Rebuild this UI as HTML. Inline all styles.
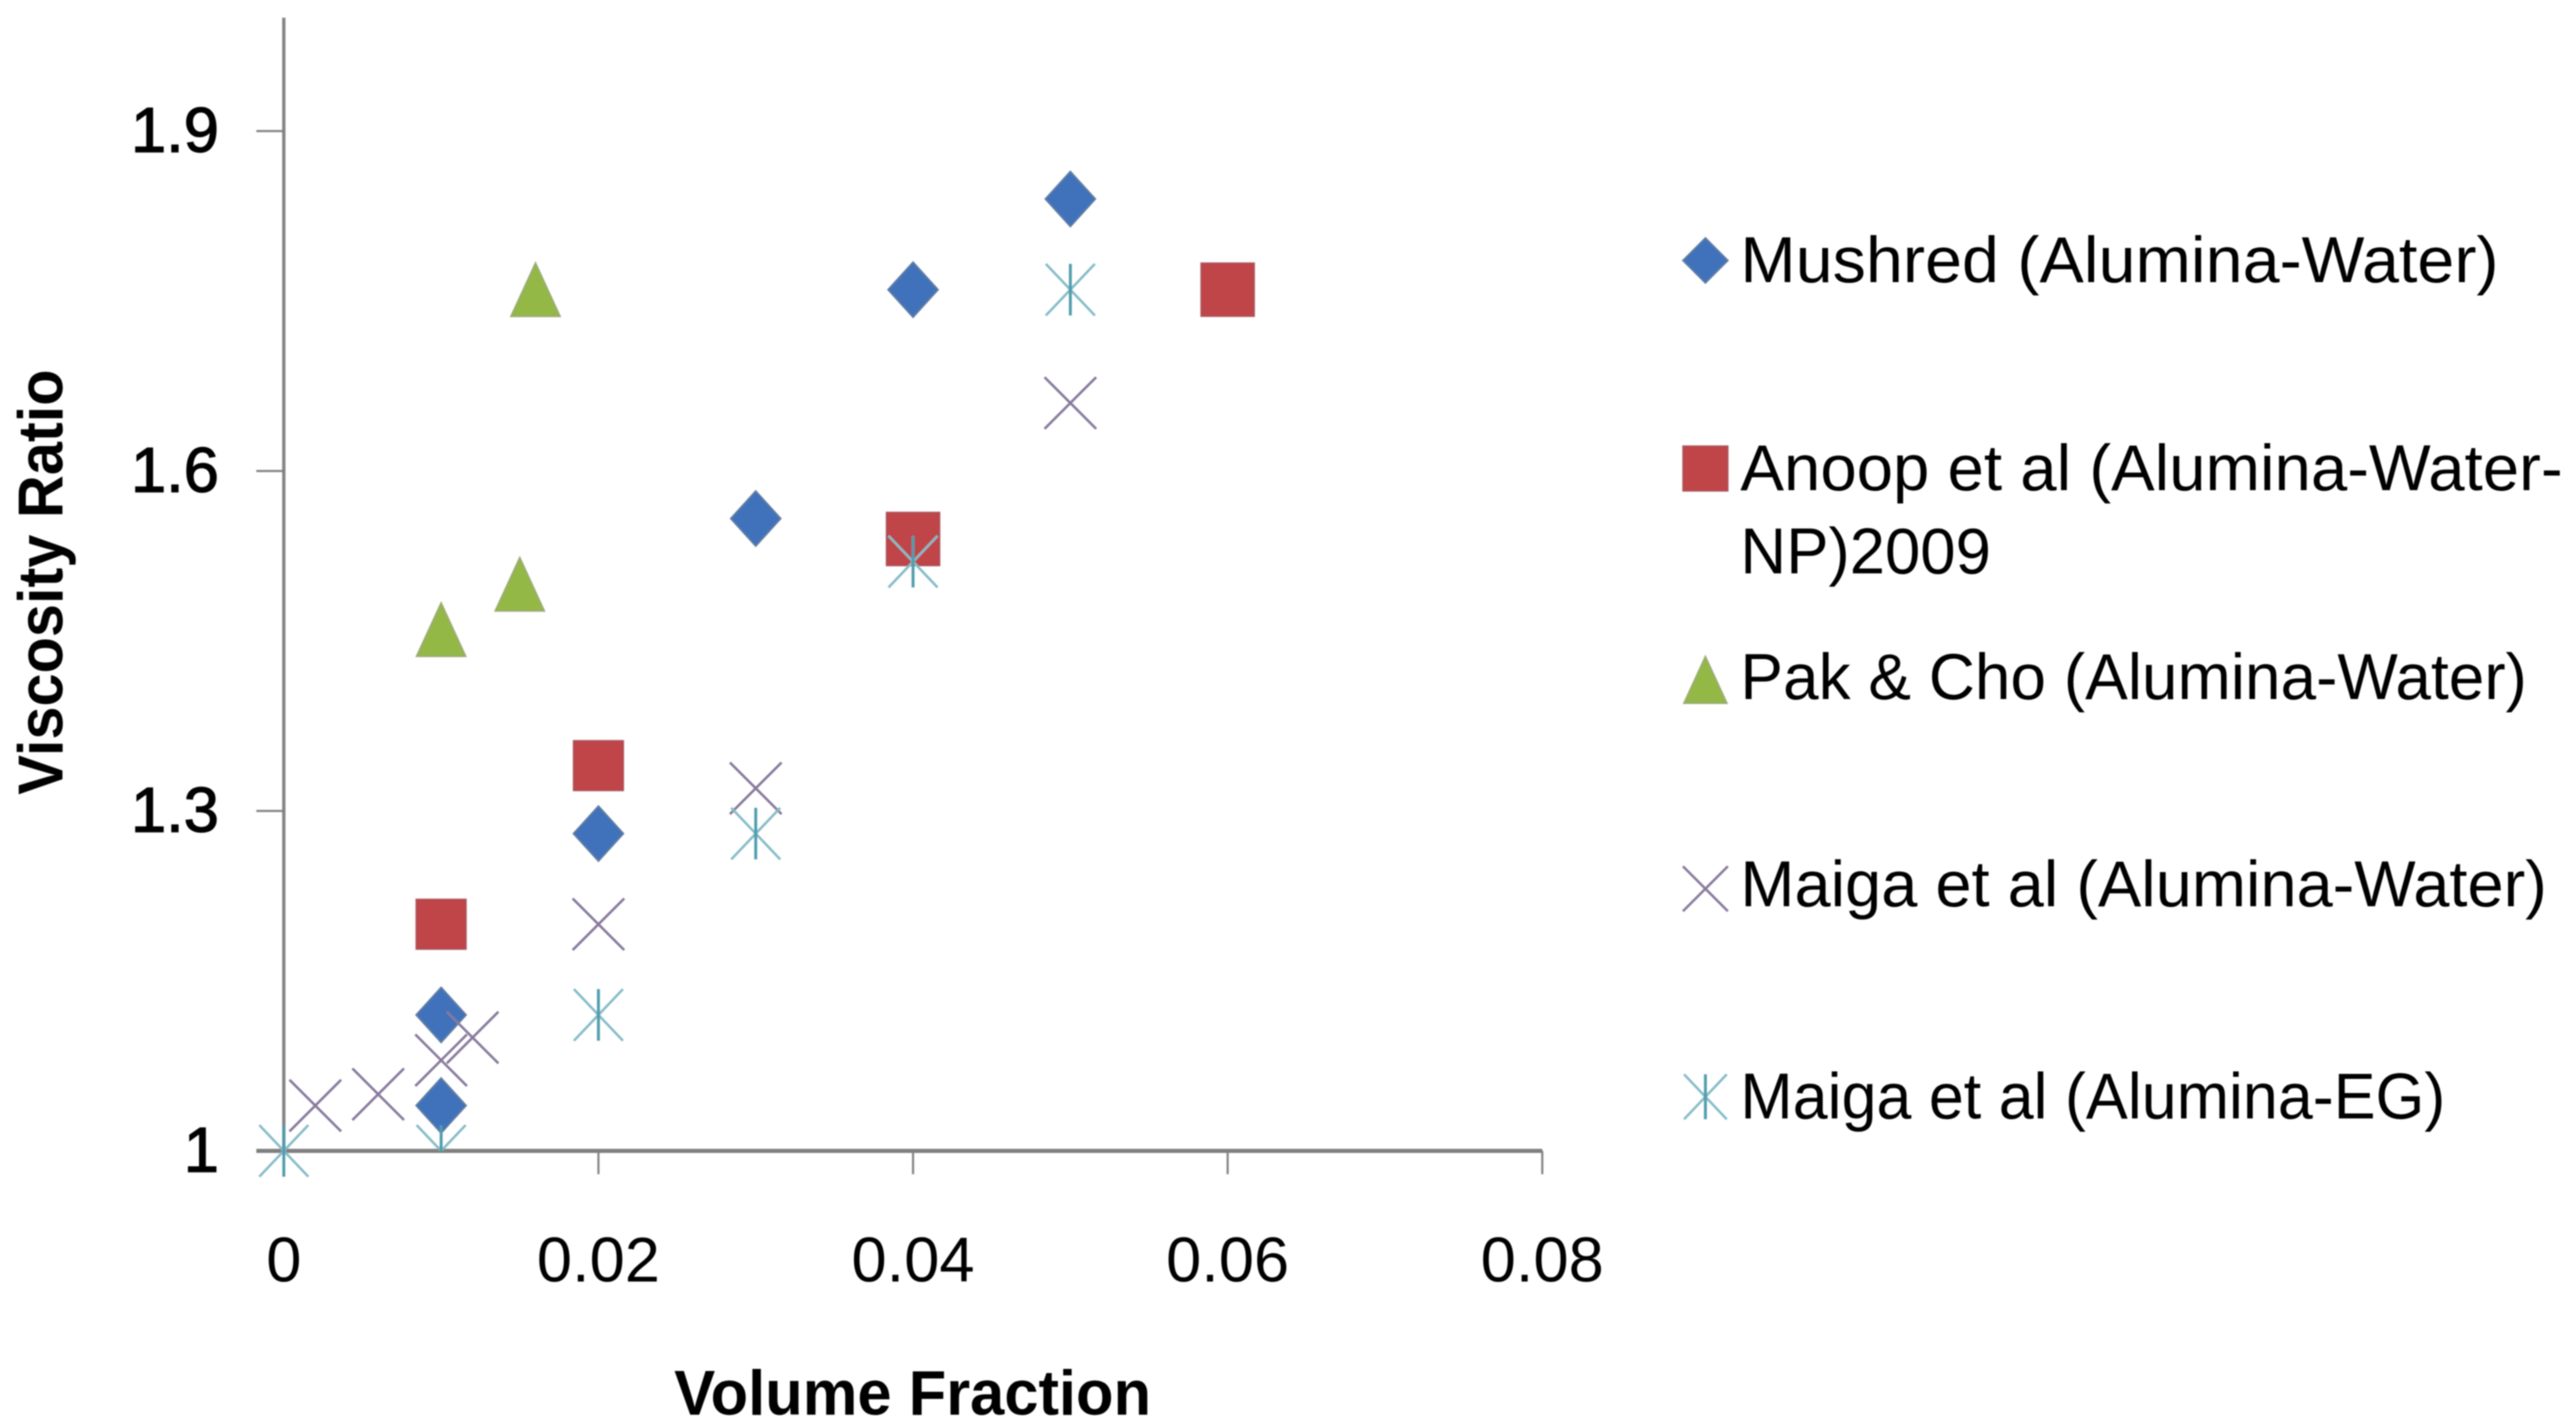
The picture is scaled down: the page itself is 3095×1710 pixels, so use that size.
<!DOCTYPE html>
<html lang="en">
<head>
<meta charset="utf-8">
<title>Viscosity Ratio vs Volume Fraction</title>
<style>
  html, body { margin: 0; padding: 0; background: #fff; }
  svg { display: block; }
  text { font-family: "Liberation Sans", sans-serif; fill: #000; }
</style>
</head>
<body>
<svg id="chart" xmlns="http://www.w3.org/2000/svg" width="3095" height="1710" viewBox="0 0 3095 1710">
  <defs>
    <clipPath id="plot-clip"><rect x="300" y="0" width="1600" height="1383"></rect></clipPath>
    <filter id="soft" x="-5%" y="-5%" width="110%" height="110%"><feGaussianBlur stdDeviation="0.9"></feGaussianBlur></filter>
  </defs>
  <rect x="0" y="0" width="3095" height="1710" fill="#ffffff"></rect>
  <g id="root" filter="url(#soft)">
    <g id="axes"></g>
    <g id="marks"></g>
    <text transform="translate(75,955) rotate(-90)" font-size="76" font-weight="700" textLength="511" lengthAdjust="spacingAndGlyphs">Viscosity Ratio</text>
    <text x="810" y="1700" font-size="76" font-weight="700" textLength="573" lengthAdjust="spacingAndGlyphs">Volume Fraction</text>
    <g id="legend">
      <text x="2091" y="339" font-size="78" textLength="911" lengthAdjust="spacingAndGlyphs">Mushred (Alumina-Water)</text>
      <text x="2091" y="589" font-size="78" textLength="988" lengthAdjust="spacingAndGlyphs">Anoop et al (Alumina-Water-</text>
      <text x="2091" y="689" font-size="78" textLength="301" lengthAdjust="spacingAndGlyphs">NP)2009</text>
      <text x="2091" y="840" font-size="78" textLength="945" lengthAdjust="spacingAndGlyphs">Pak &amp; Cho (Alumina-Water)</text>
      <text x="2091" y="1089" font-size="78" textLength="969" lengthAdjust="spacingAndGlyphs">Maiga et al (Alumina-Water)</text>
      <text x="2091" y="1344" font-size="78" textLength="847" lengthAdjust="spacingAndGlyphs">Maiga et al (Alumina-EG)</text>
    </g>
  </g>
</svg>
<script>
// Axis data
const xTicks = [0, 0.02, 0.04, 0.06, 0.08];
const xTickLabels = ["0", "0.02", "0.04", "0.06", "0.08"];
const yTicks = [1, 1.3, 1.6, 1.9];
const yTickLabels = ["1", "1.3", "1.6", "1.9"];
const xMin = 0, xMax = 0.08, yMin = 1, yMax = 2;

// Series data
const mushredX = [0.01, 0.01, 0.02, 0.03, 0.04, 0.05];
const mushredY = [1.04, 1.12, 1.28, 1.558, 1.76, 1.84];
const anoopX = [0.01, 0.02, 0.04, 0.06];
const anoopY = [1.2, 1.34, 1.54, 1.76];
const pakChoX = [0.01, 0.015, 0.016];
const pakChoY = [1.46, 1.5, 1.76];
const maigaWaterX = [0.002, 0.006, 0.01, 0.012, 0.02, 0.03, 0.05];
const maigaWaterY = [1.04, 1.05, 1.08, 1.1, 1.2, 1.32, 1.66];
const maigaEgX = [0, 0.01, 0.02, 0.03, 0.04, 0.05];
const maigaEgY = [1, 1, 1.12, 1.28, 1.52, 1.76];

const NS = "http://www.w3.org/2000/svg";
const axisLeft = 341, axisRight = 1853, axisBottom = 1383, axisTop = 21.3;
function xScale(v) { return axisLeft + (v - xMin) / (xMax - xMin) * (axisRight - axisLeft); }
function yScale(v) { return axisBottom - (v - yMin) / (yMax - yMin) * (axisBottom - axisTop); }

function make(tag, attrs, parent) {
  const el = document.createElementNS(NS, tag);
  for (const k in attrs) el.setAttribute(k, attrs[k]);
  parent.appendChild(el);
  return el;
}

const axes = document.getElementById("axes");
const marks = document.getElementById("marks");
const legend = document.getElementById("legend");

// Axis lines
const yAxisLine = make("line", { x1: xScale(xMin), x2: xScale(xMin), y1: yScale(yMax), y2: yScale(yMin), stroke: "#858585", "stroke-width": 4 }, axes);


const xAxisLine = make("line", { x1: xScale(xMin) - 33, x2: xScale(xMax), y1: yScale(yMin), y2: yScale(yMin), stroke: "#808080", "stroke-width": 5 }, axes);



// X ticks
xTicks.forEach(function (t, i) {
  const px = xScale(t);
  const tick = make("line", { x1: px, x2: px, y1: axisBottom, y2: axisBottom + 28, stroke: "#808080", "stroke-width": 2.5 }, axes);
  
  
  const label = make("text", { x: px, y: 1540, "font-size": 76, "text-anchor": "middle" }, axes);
  label.textContent = xTickLabels[i];
  
  
});

// Y ticks
yTicks.forEach(function (t, i) {
  const py = yScale(t);
  const tick = make("line", { x1: axisLeft - 33, x2: axisLeft, y1: py, y2: py, stroke: "#808080", "stroke-width": 2.5 }, axes);
  
  
  const label = make("text", { x: 263, y: py + 25, "font-size": 76, "text-anchor": "end", stroke: "#000", "stroke-width": 1.5 }, axes);
  label.textContent = yTickLabels[i];
  
  
});

// Marker drawers
function drawDiamond(parent, cx, cy, rx, ry) {
  return make("polygon", { points: [cx, cy - ry, cx + rx, cy, cx, cy + ry, cx - rx, cy].join(" "), fill: "#3f72bb", stroke: "#5f7ba3", "stroke-width": 2 }, parent);
}
function drawSquare(parent, cx, cy, r) {
  return make("rect", { x: cx - r, y: cy - r, width: 2 * r, height: 2 * r, fill: "#bf444a", stroke: "#a8545a", "stroke-width": 1.5 }, parent);
}
function drawTriangle(parent, cx, cy, r) {
  return make("polygon", { points: [cx, cy - r, cx + r * 0.92, cy + r, cx - r * 0.92, cy + r].join(" "), fill: "#93b844", stroke: "#9bac72", "stroke-width": 2 }, parent);
}
function drawX(parent, cx, cy, r) {
  const g = make("g", { stroke: "#87799c", "stroke-width": 3, fill: "none" }, parent);
  make("line", { x1: cx - r, y1: cy - r, x2: cx + r, y2: cy + r }, g);
  make("line", { x1: cx - r, y1: cy + r, x2: cx + r, y2: cy - r }, g);
  return g;
}
function drawStar(parent, cx, cy, r) {
  const g = make("g", { fill: "none" }, parent);
  make("line", { x1: cx - r * 0.95, y1: cy - r, x2: cx + r * 0.95, y2: cy + r, stroke: "#85bcc7", "stroke-width": 3 }, g);
  make("line", { x1: cx - r * 0.95, y1: cy + r, x2: cx + r * 0.95, y2: cy - r, stroke: "#85bcc7", "stroke-width": 3 }, g);
  make("line", { x1: cx, y1: cy - r, x2: cx, y2: cy + r, stroke: "#4f9cac", "stroke-width": 3.5 }, g);
  return g;
}
function clipIfInside(el, xv) {
  if (xv > xMin) el.setAttribute("clip-path", "url(#plot-clip)");
}

// Data points, one series at a time
mushredX.forEach(function (xv, i) {
  const m = drawDiamond(marks, xScale(xv), yScale(mushredY[i]), 30, 33);
  
  
});
anoopX.forEach(function (xv, i) {
  const m = drawSquare(marks, xScale(xv), yScale(anoopY[i]), xv < 0.03 ? 30 : 32);
  
  
});
pakChoX.forEach(function (xv, i) {
  const m = drawTriangle(marks, xScale(xv), yScale(pakChoY[i]), 32);
  
  
});
maigaWaterX.forEach(function (xv, i) {
  const m = drawX(marks, xScale(xv), yScale(maigaWaterY[i]), 31);
  
  
});
maigaEgX.forEach(function (xv, i) {
  const m = drawStar(marks, xScale(xv), yScale(maigaEgY[i]), 31);
  clipIfInside(m, xv);
  
  
});

// Legend markers
const legendDiamond = drawDiamond(legend, 2049, 313, 27, 27);


const legendSquare = drawSquare(legend, 2049, 563, 27);


const legendTriangle = drawTriangle(legend, 2049, 817, 28);


const legendX = drawX(legend, 2049, 1068, 27);


const legendStar = drawStar(legend, 2049, 1318, 27);


</script>
</body>
</html>
